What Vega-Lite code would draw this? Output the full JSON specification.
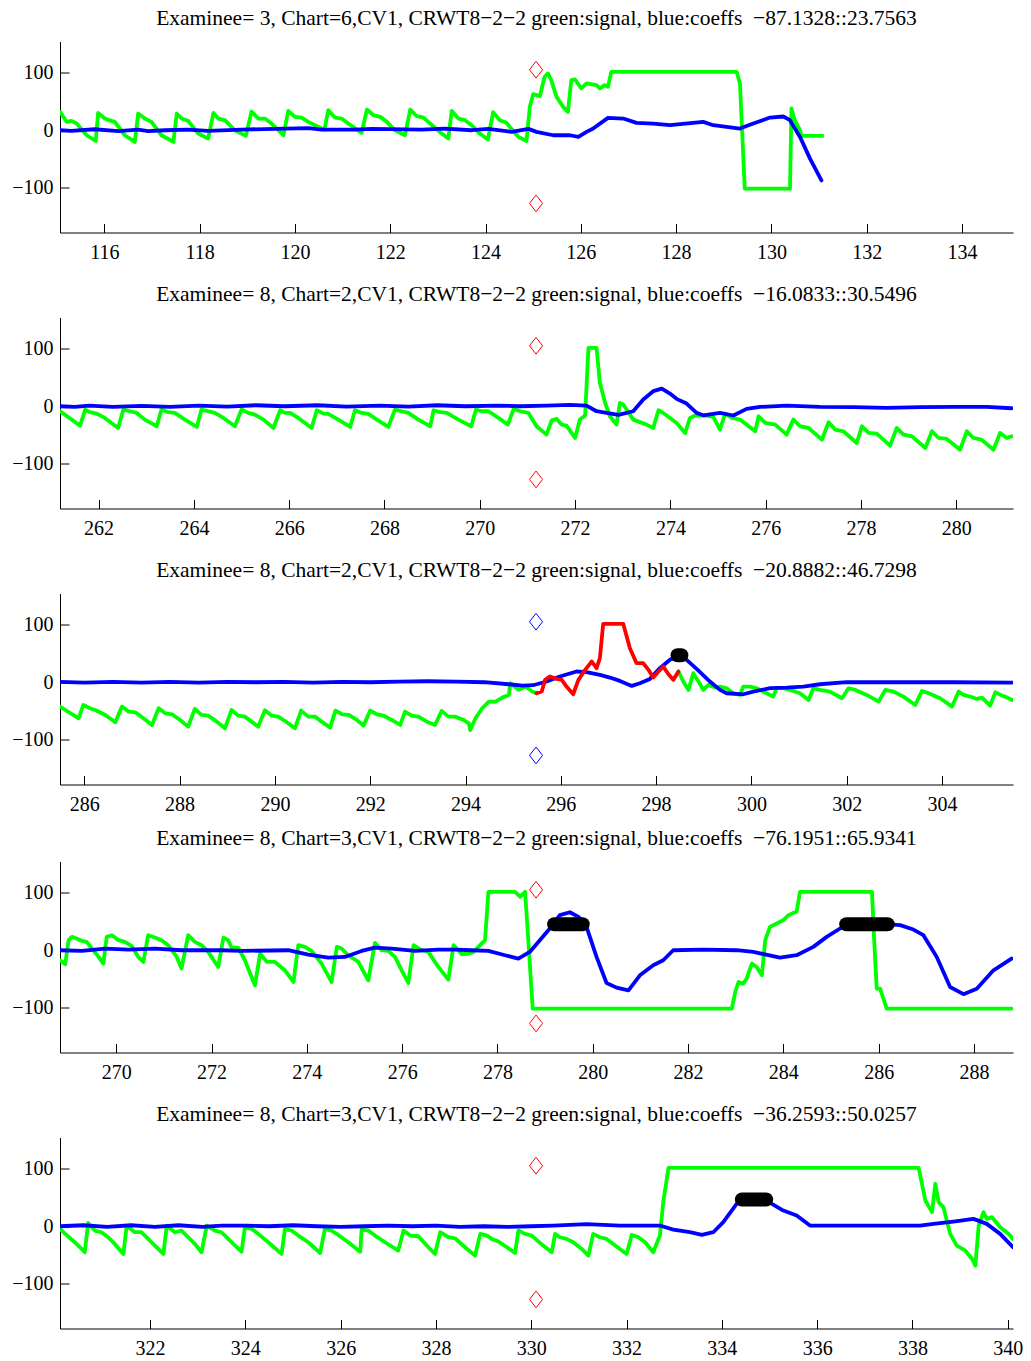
{
"$schema":"https://vega.github.io/schema/vega-lite/v6.json",
"padding":{"left":11,"top":7.5,"right":5,"bottom":5},
"spacing":13,
"datasets":{
"sig":[
{"p":1,"s":"g","x":115.07,"y":31.9},{"p":1,"s":"g","x":115.21,"y":14.5},{"p":1,"s":"g","x":115.31,"y":16.2},{"p":1,"s":"g","x":115.42,"y":11.6},{"p":1,"s":"g","x":115.63,"y":-8.7},{"p":1,"s":"g","x":115.82,"y":-18.6},{"p":1,"s":"g","x":115.87,"y":30.1},{"p":1,"s":"g","x":116.01,"y":20.3},{"p":1,"s":"g","x":116.15,"y":16.2},{"p":1,"s":"g","x":116.22,"y":14.5},{"p":1,"s":"g","x":116.43,"y":-8.7},{"p":1,"s":"g","x":116.64,"y":-20.3},{"p":1,"s":"g","x":116.71,"y":29.0},{"p":1,"s":"g","x":116.85,"y":20.3},{"p":1,"s":"g","x":116.99,"y":14.5},{"p":1,"s":"g","x":117.20,"y":-8.7},{"p":1,"s":"g","x":117.45,"y":-20.3},{"p":1,"s":"g","x":117.52,"y":29.0},{"p":1,"s":"g","x":117.62,"y":20.3},{"p":1,"s":"g","x":117.76,"y":16.2},{"p":1,"s":"g","x":117.97,"y":-5.8},{"p":1,"s":"g","x":118.18,"y":-14.5},{"p":1,"s":"g","x":118.29,"y":30.1},{"p":1,"s":"g","x":118.39,"y":20.3},{"p":1,"s":"g","x":118.53,"y":17.4},{"p":1,"s":"g","x":118.74,"y":0},{"p":1,"s":"g","x":118.97,"y":-9.9},{"p":1,"s":"g","x":119.09,"y":32.5},{"p":1,"s":"g","x":119.23,"y":20.3},{"p":1,"s":"g","x":119.37,"y":20.3},{"p":1,"s":"g","x":119.51,"y":11.6},{"p":1,"s":"g","x":119.76,"y":-8.7},{"p":1,"s":"g","x":119.86,"y":33.6},{"p":1,"s":"g","x":120.00,"y":23.2},{"p":1,"s":"g","x":120.14,"y":22.0},{"p":1,"s":"g","x":120.28,"y":14.5},{"p":1,"s":"g","x":120.56,"y":2.9},{"p":1,"s":"g","x":120.62,"y":1.2},{"p":1,"s":"g","x":120.70,"y":34.8},{"p":1,"s":"g","x":120.84,"y":22.0},{"p":1,"s":"g","x":120.98,"y":20.3},{"p":1,"s":"g","x":121.12,"y":11.6},{"p":1,"s":"g","x":121.40,"y":-4.6},{"p":1,"s":"g","x":121.51,"y":35.9},{"p":1,"s":"g","x":121.65,"y":26.1},{"p":1,"s":"g","x":121.79,"y":23.2},{"p":1,"s":"g","x":121.93,"y":14.5},{"p":1,"s":"g","x":122.10,"y":0},{"p":1,"s":"g","x":122.31,"y":-8.7},{"p":1,"s":"g","x":122.42,"y":35.9},{"p":1,"s":"g","x":122.56,"y":24.3},{"p":1,"s":"g","x":122.70,"y":22.0},{"p":1,"s":"g","x":122.84,"y":11.6},{"p":1,"s":"g","x":123.08,"y":-5.8},{"p":1,"s":"g","x":123.22,"y":-14.5},{"p":1,"s":"g","x":123.29,"y":33.6},{"p":1,"s":"g","x":123.43,"y":20.3},{"p":1,"s":"g","x":123.57,"y":17.4},{"p":1,"s":"g","x":123.71,"y":8.7},{"p":1,"s":"g","x":123.88,"y":-5.8},{"p":1,"s":"g","x":124.05,"y":-16.2},{"p":1,"s":"g","x":124.16,"y":31.3},{"p":1,"s":"g","x":124.30,"y":17.4},{"p":1,"s":"g","x":124.44,"y":12.8},{"p":1,"s":"g","x":124.51,"y":5.8},{"p":1,"s":"g","x":124.69,"y":-11.6},{"p":1,"s":"g","x":124.86,"y":-18.6},{"p":1,"s":"g","x":124.93,"y":40.6},{"p":1,"s":"g","x":125.00,"y":62.6},{"p":1,"s":"g","x":125.14,"y":59.1},{"p":1,"s":"g","x":125.24,"y":92.8},{"p":1,"s":"g","x":125.31,"y":98.6},{"p":1,"s":"g","x":125.38,"y":87.0},{"p":1,"s":"g","x":125.49,"y":58.0},{"p":1,"s":"g","x":125.63,"y":40.6},{"p":1,"s":"g","x":125.73,"y":31.9},{"p":1,"s":"g","x":125.80,"y":87.0},{"p":1,"s":"g","x":125.88,"y":88.1},{"p":1,"s":"g","x":126.01,"y":72.5},{"p":1,"s":"g","x":126.12,"y":81.2},{"p":1,"s":"g","x":126.33,"y":78.3},{"p":1,"s":"g","x":126.40,"y":72.5},{"p":1,"s":"g","x":126.50,"y":78.3},{"p":1,"s":"g","x":126.57,"y":75.4},{"p":1,"s":"g","x":126.64,"y":101.4},{"p":1,"s":"g","x":129.27,"y":101.4},{"p":1,"s":"g","x":129.34,"y":81.2},{"p":1,"s":"g","x":129.44,"y":-101.4},{"p":1,"s":"g","x":130.39,"y":-101.4},{"p":1,"s":"g","x":130.42,"y":37.7},{"p":1,"s":"g","x":130.49,"y":17.4},{"p":1,"s":"g","x":130.60,"y":0},{"p":1,"s":"g","x":130.63,"y":-9.9},{"p":1,"s":"g","x":131.07,"y":-9.9},
{"p":1,"s":"b","x":115.07,"y":0},{"p":1,"s":"b","x":115.31,"y":-1.2},{"p":1,"s":"b","x":115.80,"y":1.7},{"p":1,"s":"b","x":116.29,"y":-1.7},{"p":1,"s":"b","x":116.71,"y":1.2},{"p":1,"s":"b","x":116.92,"y":-1.7},{"p":1,"s":"b","x":117.27,"y":0},{"p":1,"s":"b","x":117.76,"y":1.2},{"p":1,"s":"b","x":118.18,"y":-1.2},{"p":1,"s":"b","x":118.88,"y":1.2},{"p":1,"s":"b","x":119.58,"y":2.3},{"p":1,"s":"b","x":120.28,"y":3.5},{"p":1,"s":"b","x":120.56,"y":1.2},{"p":1,"s":"b","x":121.26,"y":1.2},{"p":1,"s":"b","x":121.61,"y":2.3},{"p":1,"s":"b","x":122.66,"y":1.2},{"p":1,"s":"b","x":123.15,"y":2.9},{"p":1,"s":"b","x":123.71,"y":0},{"p":1,"s":"b","x":124.06,"y":2.3},{"p":1,"s":"b","x":124.55,"y":-2.9},{"p":1,"s":"b","x":124.90,"y":2.3},{"p":1,"s":"b","x":125.07,"y":-2.9},{"p":1,"s":"b","x":125.42,"y":-8.7},{"p":1,"s":"b","x":125.77,"y":-8.7},{"p":1,"s":"b","x":125.95,"y":-11.6},{"p":1,"s":"b","x":126.12,"y":-2.9},{"p":1,"s":"b","x":126.26,"y":2.9},{"p":1,"s":"b","x":126.57,"y":21.4},{"p":1,"s":"b","x":126.89,"y":20.3},{"p":1,"s":"b","x":127.17,"y":12.8},{"p":1,"s":"b","x":127.52,"y":11.6},{"p":1,"s":"b","x":127.87,"y":8.7},{"p":1,"s":"b","x":128.57,"y":14.5},{"p":1,"s":"b","x":128.78,"y":8.7},{"p":1,"s":"b","x":129.34,"y":2.9},{"p":1,"s":"b","x":129.62,"y":11.6},{"p":1,"s":"b","x":129.97,"y":22.0},{"p":1,"s":"b","x":130.25,"y":23.8},{"p":1,"s":"b","x":130.39,"y":17.4},{"p":1,"s":"b","x":130.60,"y":-11.6},{"p":1,"s":"b","x":130.81,"y":-49.3},{"p":1,"s":"b","x":131.05,"y":-87.1},
{"p":1,"s":"d","x":125.06,"y":105},{"p":1,"s":"d","x":125.06,"y":-127},
{"p":2,"s":"g","x":261.19,"y":-8.7},{"p":2,"s":"g","x":261.61,"y":-33.6},{"p":2,"s":"g","x":261.72,"y":-5.8},{"p":2,"s":"g","x":261.82,"y":-10.4},{"p":2,"s":"g","x":261.96,"y":-12.8},{"p":2,"s":"g","x":262.13,"y":-20.3},{"p":2,"s":"g","x":262.41,"y":-37.7},{"p":2,"s":"g","x":262.52,"y":-5.8},{"p":2,"s":"g","x":262.66,"y":-8.7},{"p":2,"s":"g","x":262.80,"y":-11.6},{"p":2,"s":"g","x":262.97,"y":-23.2},{"p":2,"s":"g","x":263.22,"y":-34.8},{"p":2,"s":"g","x":263.32,"y":-5.8},{"p":2,"s":"g","x":263.46,"y":-10.4},{"p":2,"s":"g","x":263.60,"y":-11.6},{"p":2,"s":"g","x":263.81,"y":-23.2},{"p":2,"s":"g","x":264.06,"y":-35.9},{"p":2,"s":"g","x":264.16,"y":-5.8},{"p":2,"s":"g","x":264.30,"y":-8.7},{"p":2,"s":"g","x":264.44,"y":-11.6},{"p":2,"s":"g","x":264.62,"y":-20.3},{"p":2,"s":"g","x":264.86,"y":-34.8},{"p":2,"s":"g","x":265.00,"y":-5.8},{"p":2,"s":"g","x":265.14,"y":-11.6},{"p":2,"s":"g","x":265.28,"y":-14.5},{"p":2,"s":"g","x":265.46,"y":-23.2},{"p":2,"s":"g","x":265.67,"y":-37.7},{"p":2,"s":"g","x":265.81,"y":-7.0},{"p":2,"s":"g","x":265.91,"y":-11.6},{"p":2,"s":"g","x":266.02,"y":-11.6},{"p":2,"s":"g","x":266.19,"y":-20.3},{"p":2,"s":"g","x":266.47,"y":-37.7},{"p":2,"s":"g","x":266.58,"y":-7.0},{"p":2,"s":"g","x":266.72,"y":-12.8},{"p":2,"s":"g","x":266.82,"y":-13.3},{"p":2,"s":"g","x":267.03,"y":-23.2},{"p":2,"s":"g","x":267.28,"y":-35.9},{"p":2,"s":"g","x":267.38,"y":-7.0},{"p":2,"s":"g","x":267.52,"y":-11.6},{"p":2,"s":"g","x":267.66,"y":-13.3},{"p":2,"s":"g","x":267.84,"y":-23.2},{"p":2,"s":"g","x":268.08,"y":-35.9},{"p":2,"s":"g","x":268.22,"y":-5.8},{"p":2,"s":"g","x":268.36,"y":-8.7},{"p":2,"s":"g","x":268.50,"y":-11.6},{"p":2,"s":"g","x":268.71,"y":-23.2},{"p":2,"s":"g","x":268.96,"y":-34.8},{"p":2,"s":"g","x":269.03,"y":-7.0},{"p":2,"s":"g","x":269.17,"y":-10.4},{"p":2,"s":"g","x":269.31,"y":-11.6},{"p":2,"s":"g","x":269.55,"y":-23.2},{"p":2,"s":"g","x":269.82,"y":-34.8},{"p":2,"s":"g","x":269.92,"y":-5.8},{"p":2,"s":"g","x":270.04,"y":-8.7},{"p":2,"s":"g","x":270.18,"y":-8.7},{"p":2,"s":"g","x":270.39,"y":-20.3},{"p":2,"s":"g","x":270.59,"y":-31.9},{"p":2,"s":"g","x":270.71,"y":-4.6},{"p":2,"s":"g","x":270.85,"y":-8.7},{"p":2,"s":"g","x":271.02,"y":-11.6},{"p":2,"s":"g","x":271.19,"y":-34.8},{"p":2,"s":"g","x":271.40,"y":-49.3},{"p":2,"s":"g","x":271.51,"y":-24.3},{"p":2,"s":"g","x":271.61,"y":-22.0},{"p":2,"s":"g","x":271.72,"y":-31.9},{"p":2,"s":"g","x":271.82,"y":-33.6},{"p":2,"s":"g","x":272.00,"y":-55.1},{"p":2,"s":"g","x":272.10,"y":-23.2},{"p":2,"s":"g","x":272.21,"y":-16.2},{"p":2,"s":"g","x":272.28,"y":101.4},{"p":2,"s":"g","x":272.45,"y":101.4},{"p":2,"s":"g","x":272.52,"y":40.6},{"p":2,"s":"g","x":272.63,"y":5.8},{"p":2,"s":"g","x":272.73,"y":-17.4},{"p":2,"s":"g","x":272.87,"y":-31.9},{"p":2,"s":"g","x":272.94,"y":5.8},{"p":2,"s":"g","x":273.01,"y":2.9},{"p":2,"s":"g","x":273.22,"y":-23.2},{"p":2,"s":"g","x":273.50,"y":-31.9},{"p":2,"s":"g","x":273.64,"y":-37.7},{"p":2,"s":"g","x":273.75,"y":-7.0},{"p":2,"s":"g","x":273.85,"y":-11.6},{"p":2,"s":"g","x":273.99,"y":-20.3},{"p":2,"s":"g","x":274.13,"y":-29.0},{"p":2,"s":"g","x":274.31,"y":-46.4},{"p":2,"s":"g","x":274.41,"y":-20.3},{"p":2,"s":"g","x":274.52,"y":-16.2},{"p":2,"s":"g","x":274.76,"y":-16.2},{"p":2,"s":"g","x":274.90,"y":-18.6},{"p":2,"s":"g","x":275.04,"y":-40.6},{"p":2,"s":"g","x":275.15,"y":-12.8},{"p":2,"s":"g","x":275.29,"y":-20.3},{"p":2,"s":"g","x":275.46,"y":-23.2},{"p":2,"s":"g","x":275.60,"y":-31.9},{"p":2,"s":"g","x":275.78,"y":-43.5},{"p":2,"s":"g","x":275.85,"y":-17.4},{"p":2,"s":"g","x":275.99,"y":-29.0},{"p":2,"s":"g","x":276.20,"y":-31.9},{"p":2,"s":"g","x":276.44,"y":-49.3},{"p":2,"s":"g","x":276.58,"y":-23.2},{"p":2,"s":"g","x":276.72,"y":-34.8},{"p":2,"s":"g","x":276.90,"y":-37.7},{"p":2,"s":"g","x":277.18,"y":-58.0},{"p":2,"s":"g","x":277.32,"y":-27.8},{"p":2,"s":"g","x":277.46,"y":-40.6},{"p":2,"s":"g","x":277.63,"y":-43.5},{"p":2,"s":"g","x":277.91,"y":-63.8},{"p":2,"s":"g","x":278.02,"y":-34.8},{"p":2,"s":"g","x":278.16,"y":-46.4},{"p":2,"s":"g","x":278.33,"y":-47.5},{"p":2,"s":"g","x":278.61,"y":-68.4},{"p":2,"s":"g","x":278.75,"y":-37.7},{"p":2,"s":"g","x":278.89,"y":-49.3},{"p":2,"s":"g","x":279.07,"y":-52.2},{"p":2,"s":"g","x":279.35,"y":-72.5},{"p":2,"s":"g","x":279.49,"y":-43.5},{"p":2,"s":"g","x":279.63,"y":-55.1},{"p":2,"s":"g","x":279.80,"y":-56.8},{"p":2,"s":"g","x":280.08,"y":-75.4},{"p":2,"s":"g","x":280.22,"y":-43.5},{"p":2,"s":"g","x":280.36,"y":-55.1},{"p":2,"s":"g","x":280.53,"y":-58.0},{"p":2,"s":"g","x":280.78,"y":-75.4},{"p":2,"s":"g","x":280.92,"y":-46.4},{"p":2,"s":"g","x":281.06,"y":-55.1},{"p":2,"s":"g","x":281.16,"y":-52.2},
{"p":2,"s":"b","x":261.19,"y":0},{"p":2,"s":"b","x":261.5,"y":-1.2},{"p":2,"s":"b","x":261.8,"y":1.2},{"p":2,"s":"b","x":262.3,"y":-1.2},{"p":2,"s":"b","x":262.9,"y":0.6},{"p":2,"s":"b","x":263.5,"y":-1.2},{"p":2,"s":"b","x":264.1,"y":1.2},{"p":2,"s":"b","x":264.7,"y":-0.6},{"p":2,"s":"b","x":265.3,"y":1.7},{"p":2,"s":"b","x":265.9,"y":0},{"p":2,"s":"b","x":266.6,"y":1.7},{"p":2,"s":"b","x":267.2,"y":-0.6},{"p":2,"s":"b","x":267.9,"y":1.2},{"p":2,"s":"b","x":268.5,"y":-0.6},{"p":2,"s":"b","x":269.1,"y":1.7},{"p":2,"s":"b","x":269.7,"y":0},{"p":2,"s":"b","x":270.4,"y":1.2},{"p":2,"s":"b","x":270.84,"y":0},{"p":2,"s":"b","x":271.40,"y":1.2},{"p":2,"s":"b","x":271.89,"y":2.3},{"p":2,"s":"b","x":272.24,"y":1.2},{"p":2,"s":"b","x":272.45,"y":-8.7},{"p":2,"s":"b","x":272.66,"y":-11.6},{"p":2,"s":"b","x":272.91,"y":-15.0},{"p":2,"s":"b","x":273.22,"y":-8.7},{"p":2,"s":"b","x":273.43,"y":11.6},{"p":2,"s":"b","x":273.64,"y":26.1},{"p":2,"s":"b","x":273.82,"y":30.5},{"p":2,"s":"b","x":273.99,"y":22.0},{"p":2,"s":"b","x":274.13,"y":12.8},{"p":2,"s":"b","x":274.34,"y":4.6},{"p":2,"s":"b","x":274.55,"y":-11.6},{"p":2,"s":"b","x":274.69,"y":-15.7},{"p":2,"s":"b","x":275.04,"y":-11.6},{"p":2,"s":"b","x":275.32,"y":-16.1},{"p":2,"s":"b","x":275.60,"y":-4.6},{"p":2,"s":"b","x":275.88,"y":-1.2},{"p":2,"s":"b","x":276.44,"y":1.2},{"p":2,"s":"b","x":277.14,"y":-1.2},{"p":2,"s":"b","x":277.84,"y":-1.7},{"p":2,"s":"b","x":278.54,"y":-2.9},{"p":2,"s":"b","x":279.24,"y":-1.7},{"p":2,"s":"b","x":279.94,"y":-1.2},{"p":2,"s":"b","x":280.64,"y":-1.2},{"p":2,"s":"b","x":281.16,"y":-3.5},
{"p":2,"s":"d","x":271.18,"y":105},{"p":2,"s":"d","x":271.18,"y":-127},
{"p":3,"s":"g","k":1,"x":285.49,"y":-42.3},{"p":3,"s":"g","k":1,"x":285.88,"y":-62.6},{"p":3,"s":"g","k":1,"x":285.98,"y":-39.4},{"p":3,"s":"g","k":1,"x":286.12,"y":-45.2},{"p":3,"s":"g","k":1,"x":286.23,"y":-48.1},{"p":3,"s":"g","k":1,"x":286.44,"y":-56.8},{"p":3,"s":"g","k":1,"x":286.65,"y":-69.5},{"p":3,"s":"g","k":1,"x":286.79,"y":-42.3},{"p":3,"s":"g","k":1,"x":286.93,"y":-51.0},{"p":3,"s":"g","k":1,"x":287.07,"y":-52.2},{"p":3,"s":"g","k":1,"x":287.24,"y":-62.6},{"p":3,"s":"g","k":1,"x":287.42,"y":-74.2},{"p":3,"s":"g","k":1,"x":287.56,"y":-45.2},{"p":3,"s":"g","k":1,"x":287.70,"y":-53.9},{"p":3,"s":"g","k":1,"x":287.84,"y":-55.6},{"p":3,"s":"g","k":1,"x":288.01,"y":-65.5},{"p":3,"s":"g","k":1,"x":288.18,"y":-77.1},{"p":3,"s":"g","k":1,"x":288.32,"y":-46.3},{"p":3,"s":"g","k":1,"x":288.46,"y":-56.8},{"p":3,"s":"g","k":1,"x":288.60,"y":-57.9},{"p":3,"s":"g","k":1,"x":288.78,"y":-68.4},{"p":3,"s":"g","k":1,"x":288.95,"y":-80.0},{"p":3,"s":"g","k":1,"x":289.09,"y":-48.1},{"p":3,"s":"g","k":1,"x":289.23,"y":-57.9},{"p":3,"s":"g","k":1,"x":289.37,"y":-59.7},{"p":3,"s":"g","k":1,"x":289.51,"y":-68.4},{"p":3,"s":"g","k":1,"x":289.65,"y":-77.1},{"p":3,"s":"g","k":1,"x":289.79,"y":-48.7},{"p":3,"s":"g","k":1,"x":289.93,"y":-57.9},{"p":3,"s":"g","k":1,"x":290.07,"y":-59.7},{"p":3,"s":"g","k":1,"x":290.25,"y":-69.5},{"p":3,"s":"g","k":1,"x":290.42,"y":-80.0},{"p":3,"s":"g","k":1,"x":290.55,"y":-49.2},{"p":3,"s":"g","k":1,"x":290.70,"y":-59.7},{"p":3,"s":"g","k":1,"x":290.84,"y":-59.7},{"p":3,"s":"g","k":1,"x":290.98,"y":-68.4},{"p":3,"s":"g","k":1,"x":291.16,"y":-78.8},{"p":3,"s":"g","k":1,"x":291.27,"y":-49.2},{"p":3,"s":"g","k":1,"x":291.41,"y":-55.6},{"p":3,"s":"g","k":1,"x":291.55,"y":-56.8},{"p":3,"s":"g","k":1,"x":291.72,"y":-65.5},{"p":3,"s":"g","k":1,"x":291.86,"y":-75.3},{"p":3,"s":"g","k":1,"x":292.00,"y":-49.2},{"p":3,"s":"g","k":1,"x":292.14,"y":-55.6},{"p":3,"s":"g","k":1,"x":292.28,"y":-57.9},{"p":3,"s":"g","k":1,"x":292.45,"y":-65.5},{"p":3,"s":"g","k":1,"x":292.63,"y":-74.2},{"p":3,"s":"g","k":1,"x":292.73,"y":-51.0},{"p":3,"s":"g","k":1,"x":292.87,"y":-57.9},{"p":3,"s":"g","k":1,"x":293.01,"y":-59.7},{"p":3,"s":"g","k":1,"x":293.19,"y":-68.4},{"p":3,"s":"g","k":1,"x":293.36,"y":-74.2},{"p":3,"s":"g","k":1,"x":293.50,"y":-49.8},{"p":3,"s":"g","k":1,"x":293.64,"y":-59.7},{"p":3,"s":"g","k":1,"x":293.78,"y":-59.7},{"p":3,"s":"g","k":1,"x":293.96,"y":-65.5},{"p":3,"s":"g","k":1,"x":294.07,"y":-71.3},{"p":3,"s":"g","k":1,"x":294.10,"y":-82.9},{"p":3,"s":"g","k":1,"x":294.21,"y":-62.6},{"p":3,"s":"g","k":1,"x":294.35,"y":-45.2},{"p":3,"s":"g","k":1,"x":294.49,"y":-33.6},{"p":3,"s":"g","k":1,"x":294.63,"y":-33.6},{"p":3,"s":"g","k":1,"x":294.77,"y":-26.7},{"p":3,"s":"g","k":1,"x":294.91,"y":-22.1},{"p":3,"s":"g","k":1,"x":294.94,"y":-1.7},{"p":3,"s":"g","k":1,"x":295.12,"y":-13.3},{"p":3,"s":"g","k":1,"x":295.26,"y":-7.5},{"p":3,"s":"g","k":1,"x":295.40,"y":-16.2},{"p":3,"s":"g","k":1,"x":295.49,"y":-19.1},
{"p":3,"s":"r","x":295.49,"y":-19.1},{"p":3,"s":"r","x":295.60,"y":-16.2},{"p":3,"s":"r","x":295.67,"y":4.1},{"p":3,"s":"r","x":295.77,"y":9.9},{"p":3,"s":"r","x":295.91,"y":5.8},{"p":3,"s":"r","x":296.02,"y":4.1},{"p":3,"s":"r","x":296.12,"y":-7.5},{"p":3,"s":"r","x":296.26,"y":-20.9},{"p":3,"s":"r","x":296.37,"y":4.1},{"p":3,"s":"r","x":296.51,"y":21.5},{"p":3,"s":"r","x":296.65,"y":36.0},{"p":3,"s":"r","x":296.75,"y":24.4},{"p":3,"s":"r","x":296.82,"y":41.8},{"p":3,"s":"r","x":296.89,"y":101.4},{"p":3,"s":"r","x":297.31,"y":101.4},{"p":3,"s":"r","x":297.45,"y":59.1},{"p":3,"s":"r","x":297.59,"y":33.0},{"p":3,"s":"r","x":297.73,"y":33.0},{"p":3,"s":"r","x":297.84,"y":21.5},{"p":3,"s":"r","x":297.94,"y":8.1},{"p":3,"s":"r","x":298.05,"y":18.6},{"p":3,"s":"r","x":298.15,"y":27.2},{"p":3,"s":"r","x":298.26,"y":13.9},{"p":3,"s":"r","x":298.36,"y":4.1},{"p":3,"s":"r","x":298.47,"y":18.6},
{"p":3,"s":"g","k":2,"x":298.47,"y":18.6},{"p":3,"s":"g","k":2,"x":298.57,"y":1.2},{"p":3,"s":"g","k":2,"x":298.68,"y":-13.3},{"p":3,"s":"g","k":2,"x":298.78,"y":15.7},{"p":3,"s":"g","k":2,"x":298.89,"y":1.2},{"p":3,"s":"g","k":2,"x":298.99,"y":-13.3},{"p":3,"s":"g","k":2,"x":299.10,"y":-4.6},{"p":3,"s":"g","k":2,"x":299.24,"y":-9.3},{"p":3,"s":"g","k":2,"x":299.34,"y":-7.5},{"p":3,"s":"g","k":2,"x":299.48,"y":-10.4},{"p":3,"s":"g","k":2,"x":299.62,"y":-19.1},{"p":3,"s":"g","k":2,"x":299.76,"y":-22.0},{"p":3,"s":"g","k":2,"x":299.83,"y":-7.5},{"p":3,"s":"g","k":2,"x":299.97,"y":-7.5},{"p":3,"s":"g","k":2,"x":300.11,"y":-10.4},{"p":3,"s":"g","k":2,"x":300.32,"y":-19.1},{"p":3,"s":"g","k":2,"x":300.46,"y":-24.9},{"p":3,"s":"g","k":2,"x":300.53,"y":-10.4},{"p":3,"s":"g","k":2,"x":300.67,"y":-10.4},{"p":3,"s":"g","k":2,"x":300.81,"y":-13.3},{"p":3,"s":"g","k":2,"x":301.02,"y":-19.1},{"p":3,"s":"g","k":2,"x":301.20,"y":-30.7},{"p":3,"s":"g","k":2,"x":301.30,"y":-10.4},{"p":3,"s":"g","k":2,"x":301.44,"y":-13.3},{"p":3,"s":"g","k":2,"x":301.65,"y":-16.2},{"p":3,"s":"g","k":2,"x":301.90,"y":-27.8},{"p":3,"s":"g","k":2,"x":302.04,"y":-10.4},{"p":3,"s":"g","k":2,"x":302.18,"y":-13.3},{"p":3,"s":"g","k":2,"x":302.42,"y":-22.0},{"p":3,"s":"g","k":2,"x":302.67,"y":-33.6},{"p":3,"s":"g","k":2,"x":302.81,"y":-13.3},{"p":3,"s":"g","k":2,"x":302.98,"y":-16.2},{"p":3,"s":"g","k":2,"x":303.19,"y":-24.9},{"p":3,"s":"g","k":2,"x":303.44,"y":-39.4},{"p":3,"s":"g","k":2,"x":303.58,"y":-15.1},{"p":3,"s":"g","k":2,"x":303.72,"y":-19.1},{"p":3,"s":"g","k":2,"x":303.96,"y":-27.8},{"p":3,"s":"g","k":2,"x":304.21,"y":-42.3},{"p":3,"s":"g","k":2,"x":304.35,"y":-16.2},{"p":3,"s":"g","k":2,"x":304.45,"y":-22.0},{"p":3,"s":"g","k":2,"x":304.59,"y":-24.9},{"p":3,"s":"g","k":2,"x":304.73,"y":-29.0},{"p":3,"s":"g","k":2,"x":304.84,"y":-26.7},{"p":3,"s":"g","k":2,"x":305.01,"y":-40.6},{"p":3,"s":"g","k":2,"x":305.12,"y":-17.4},{"p":3,"s":"g","k":2,"x":305.26,"y":-23.2},{"p":3,"s":"g","k":2,"x":305.37,"y":-26.7},{"p":3,"s":"g","k":2,"x":305.47,"y":-30.7},
{"p":3,"s":"b","x":285.49,"y":0.6},{"p":3,"s":"b","x":286.0,"y":-0.6},{"p":3,"s":"b","x":286.6,"y":0.6},{"p":3,"s":"b","x":287.2,"y":-0.6},{"p":3,"s":"b","x":287.8,"y":0.6},{"p":3,"s":"b","x":288.4,"y":-0.6},{"p":3,"s":"b","x":289.0,"y":0.6},{"p":3,"s":"b","x":289.6,"y":0},{"p":3,"s":"b","x":290.2,"y":0.6},{"p":3,"s":"b","x":290.8,"y":-0.6},{"p":3,"s":"b","x":291.4,"y":0.6},{"p":3,"s":"b","x":292.0,"y":0},{"p":3,"s":"b","x":292.6,"y":1.2},{"p":3,"s":"b","x":293.2,"y":1.7},{"p":3,"s":"b","x":293.8,"y":1.2},{"p":3,"s":"b","x":294.4,"y":0},{"p":3,"s":"b","x":294.9,"y":-3.5},{"p":3,"s":"b","x":295.2,"y":-5.8},{"p":3,"s":"b","x":295.42,"y":-5.2},{"p":3,"s":"b","x":295.70,"y":1.2},{"p":3,"s":"b","x":295.98,"y":9.9},{"p":3,"s":"b","x":296.33,"y":18.6},{"p":3,"s":"b","x":296.54,"y":17.4},{"p":3,"s":"b","x":296.82,"y":12.8},{"p":3,"s":"b","x":297.03,"y":8.1},{"p":3,"s":"b","x":297.24,"y":2.3},{"p":3,"s":"b","x":297.49,"y":-6.4},{"p":3,"s":"b","x":297.66,"y":-1.7},{"p":3,"s":"b","x":297.87,"y":5.8},{"p":3,"s":"b","x":298.08,"y":24.4},{"p":3,"s":"b","x":298.29,"y":38.9},{"p":3,"s":"b","x":298.49,"y":46.7},{"p":3,"s":"b","x":298.64,"y":38.9},{"p":3,"s":"b","x":298.85,"y":23.2},{"p":3,"s":"b","x":299.13,"y":1.2},{"p":3,"s":"b","x":299.34,"y":-13.3},{"p":3,"s":"b","x":299.48,"y":-19.1},{"p":3,"s":"b","x":299.83,"y":-20.9},{"p":3,"s":"b","x":300.04,"y":-16.2},{"p":3,"s":"b","x":300.39,"y":-10.4},{"p":3,"s":"b","x":300.74,"y":-9.3},{"p":3,"s":"b","x":301.09,"y":-7.5},{"p":3,"s":"b","x":301.44,"y":-3.5},{"p":3,"s":"b","x":302.00,"y":0},{"p":3,"s":"b","x":302.84,"y":0},{"p":3,"s":"b","x":303.54,"y":0},{"p":3,"s":"b","x":304.24,"y":0},{"p":3,"s":"b","x":305.47,"y":-0.6},
{"p":3,"s":"k","k":1,"x":298.45,"y":46.7},{"p":3,"s":"k","k":1,"x":298.53,"y":46.7},
{"p":3,"s":"d","x":295.48,"y":105},{"p":3,"s":"d","x":295.48,"y":-127},
{"p":4,"s":"g","x":268.82,"y":-17.4},{"p":4,"s":"g","x":268.93,"y":-24.3},{"p":4,"s":"g","x":269.00,"y":17.4},{"p":4,"s":"g","x":269.07,"y":23.2},{"p":4,"s":"g","x":269.17,"y":20.3},{"p":4,"s":"g","x":269.28,"y":16.2},{"p":4,"s":"g","x":269.38,"y":14.5},{"p":4,"s":"g","x":269.49,"y":2.9},{"p":4,"s":"g","x":269.63,"y":-11.6},{"p":4,"s":"g","x":269.73,"y":-23.2},{"p":4,"s":"g","x":269.80,"y":23.2},{"p":4,"s":"g","x":269.91,"y":26.1},{"p":4,"s":"g","x":270.05,"y":17.4},{"p":4,"s":"g","x":270.18,"y":14.5},{"p":4,"s":"g","x":270.33,"y":7.0},{"p":4,"s":"g","x":270.46,"y":-11.6},{"p":4,"s":"g","x":270.57,"y":-20.3},{"p":4,"s":"g","x":270.67,"y":26.1},{"p":4,"s":"g","x":270.81,"y":22.0},{"p":4,"s":"g","x":270.95,"y":17.4},{"p":4,"s":"g","x":271.09,"y":8.7},{"p":4,"s":"g","x":271.27,"y":-11.6},{"p":4,"s":"g","x":271.37,"y":-31.9},{"p":4,"s":"g","x":271.51,"y":26.1},{"p":4,"s":"g","x":271.65,"y":14.5},{"p":4,"s":"g","x":271.79,"y":8.7},{"p":4,"s":"g","x":271.93,"y":-2.9},{"p":4,"s":"g","x":272.14,"y":-29.0},{"p":4,"s":"g","x":272.25,"y":22.0},{"p":4,"s":"g","x":272.35,"y":17.4},{"p":4,"s":"g","x":272.42,"y":4.6},{"p":4,"s":"g","x":272.56,"y":4.6},{"p":4,"s":"g","x":272.70,"y":-17.4},{"p":4,"s":"g","x":272.84,"y":-46.4},{"p":4,"s":"g","x":272.91,"y":-60.9},{"p":4,"s":"g","x":273.02,"y":-5.8},{"p":4,"s":"g","x":273.16,"y":-20.3},{"p":4,"s":"g","x":273.33,"y":-20.3},{"p":4,"s":"g","x":273.54,"y":-34.8},{"p":4,"s":"g","x":273.72,"y":-55.1},{"p":4,"s":"g","x":273.82,"y":8.7},{"p":4,"s":"g","x":273.96,"y":5.8},{"p":4,"s":"g","x":274.10,"y":-1.2},{"p":4,"s":"g","x":274.31,"y":-23.2},{"p":4,"s":"g","x":274.52,"y":-55.1},{"p":4,"s":"g","x":274.63,"y":5.8},{"p":4,"s":"g","x":274.73,"y":2.9},{"p":4,"s":"g","x":274.87,"y":-8.7},{"p":4,"s":"g","x":275.08,"y":-20.3},{"p":4,"s":"g","x":275.29,"y":-52.2},{"p":4,"s":"g","x":275.43,"y":12.8},{"p":4,"s":"g","x":275.57,"y":0},{"p":4,"s":"g","x":275.71,"y":-1.2},{"p":4,"s":"g","x":275.85,"y":-11.6},{"p":4,"s":"g","x":275.99,"y":-34.8},{"p":4,"s":"g","x":276.13,"y":-56.8},{"p":4,"s":"g","x":276.24,"y":8.7},{"p":4,"s":"g","x":276.38,"y":1.2},{"p":4,"s":"g","x":276.55,"y":-2.9},{"p":4,"s":"g","x":276.76,"y":-29.0},{"p":4,"s":"g","x":276.97,"y":-51.0},{"p":4,"s":"g","x":277.08,"y":8.7},{"p":4,"s":"g","x":277.18,"y":0},{"p":4,"s":"g","x":277.25,"y":-7.0},{"p":4,"s":"g","x":277.39,"y":-5.8},{"p":4,"s":"g","x":277.50,"y":-2.9},{"p":4,"s":"g","x":277.60,"y":5.8},{"p":4,"s":"g","x":277.74,"y":17.4},{"p":4,"s":"g","x":277.81,"y":101.4},{"p":4,"s":"g","x":278.37,"y":101.4},{"p":4,"s":"g","x":278.48,"y":92.8},{"p":4,"s":"g","x":278.58,"y":101.4},{"p":4,"s":"g","x":278.63,"y":40.6},{"p":4,"s":"g","x":278.74,"y":-101.4},{"p":4,"s":"g","x":282.92,"y":-101.4},{"p":4,"s":"g","x":282.99,"y":-72.5},{"p":4,"s":"g","x":283.06,"y":-55.1},{"p":4,"s":"g","x":283.16,"y":-58.0},{"p":4,"s":"g","x":283.23,"y":-49.3},{"p":4,"s":"g","x":283.34,"y":-23.2},{"p":4,"s":"g","x":283.44,"y":-29.0},{"p":4,"s":"g","x":283.55,"y":-43.5},{"p":4,"s":"g","x":283.62,"y":17.4},{"p":4,"s":"g","x":283.72,"y":40.6},{"p":4,"s":"g","x":283.86,"y":46.4},{"p":4,"s":"g","x":284.00,"y":52.2},{"p":4,"s":"g","x":284.11,"y":60.9},{"p":4,"s":"g","x":284.21,"y":64.9},{"p":4,"s":"g","x":284.28,"y":66.7},{"p":4,"s":"g","x":284.35,"y":101.4},{"p":4,"s":"g","x":285.86,"y":101.4},{"p":4,"s":"g","x":285.91,"y":11.6},{"p":4,"s":"g","x":285.96,"y":-66.7},{"p":4,"s":"g","x":286.03,"y":-66.7},{"p":4,"s":"g","x":286.17,"y":-101.4},{"p":4,"s":"g","x":288.79,"y":-101.4},
{"p":4,"s":"b","x":268.82,"y":0},{"p":4,"s":"b","x":269.28,"y":-1.2},{"p":4,"s":"b","x":269.77,"y":2.9},{"p":4,"s":"b","x":270.26,"y":1.2},{"p":4,"s":"b","x":270.81,"y":2.9},{"p":4,"s":"b","x":271.37,"y":0},{"p":4,"s":"b","x":272.21,"y":0},{"p":4,"s":"b","x":272.63,"y":-1.2},{"p":4,"s":"b","x":273.61,"y":0},{"p":4,"s":"b","x":274.03,"y":-7.5},{"p":4,"s":"b","x":274.45,"y":-12.8},{"p":4,"s":"b","x":274.80,"y":-11.6},{"p":4,"s":"b","x":275.15,"y":-1.2},{"p":4,"s":"b","x":275.43,"y":4.6},{"p":4,"s":"b","x":275.78,"y":2.9},{"p":4,"s":"b","x":276.27,"y":-1.2},{"p":4,"s":"b","x":276.76,"y":1.2},{"p":4,"s":"b","x":277.11,"y":1.2},{"p":4,"s":"b","x":277.46,"y":0},{"p":4,"s":"b","x":277.81,"y":-1.2},{"p":4,"s":"b","x":278.16,"y":-8.7},{"p":4,"s":"b","x":278.44,"y":-14.5},{"p":4,"s":"b","x":278.68,"y":-2.9},{"p":4,"s":"b","x":278.89,"y":17.4},{"p":4,"s":"b","x":279.10,"y":37.7},{"p":4,"s":"b","x":279.31,"y":60.9},{"p":4,"s":"b","x":279.52,"y":65.9},{"p":4,"s":"b","x":279.70,"y":58.0},{"p":4,"s":"b","x":279.87,"y":40.6},{"p":4,"s":"b","x":280.08,"y":-11.6},{"p":4,"s":"b","x":280.29,"y":-56.8},{"p":4,"s":"b","x":280.50,"y":-64.9},{"p":4,"s":"b","x":280.75,"y":-69.6},{"p":4,"s":"b","x":280.99,"y":-43.5},{"p":4,"s":"b","x":281.27,"y":-26.1},{"p":4,"s":"b","x":281.48,"y":-17.4},{"p":4,"s":"b","x":281.69,"y":0},{"p":4,"s":"b","x":282.32,"y":1.2},{"p":4,"s":"b","x":283.02,"y":0},{"p":4,"s":"b","x":283.37,"y":-2.9},{"p":4,"s":"b","x":283.93,"y":-12.8},{"p":4,"s":"b","x":284.28,"y":-8.7},{"p":4,"s":"b","x":284.63,"y":5.8},{"p":4,"s":"b","x":284.91,"y":23.2},{"p":4,"s":"b","x":285.19,"y":37.7},{"p":4,"s":"b","x":285.47,"y":46.4},{"p":4,"s":"b","x":286.17,"y":45.2},{"p":4,"s":"b","x":286.45,"y":43.5},{"p":4,"s":"b","x":286.73,"y":35.9},{"p":4,"s":"b","x":286.94,"y":26.1},{"p":4,"s":"b","x":287.22,"y":-11.6},{"p":4,"s":"b","x":287.50,"y":-63.8},{"p":4,"s":"b","x":287.78,"y":-76.2},{"p":4,"s":"b","x":288.06,"y":-66.7},{"p":4,"s":"b","x":288.41,"y":-34.8},{"p":4,"s":"b","x":288.79,"y":-14.5},
{"p":4,"s":"k","k":1,"x":279.19,"y":45.2},{"p":4,"s":"k","k":1,"x":279.79,"y":45.2},{"p":4,"s":"k","k":2,"x":285.32,"y":45.2},{"p":4,"s":"k","k":2,"x":286.19,"y":45.2},
{"p":4,"s":"d","x":278.81,"y":105},{"p":4,"s":"d","x":278.81,"y":-127},
{"p":5,"s":"g","x":320.11,"y":-4.6},{"p":5,"s":"g","x":320.22,"y":-13.3},{"p":5,"s":"g","x":320.42,"y":-27.8},{"p":5,"s":"g","x":320.53,"y":-36.5},{"p":5,"s":"g","x":320.63,"y":-45.2},{"p":5,"s":"g","x":320.70,"y":5.8},{"p":5,"s":"g","x":320.84,"y":-7.5},{"p":5,"s":"g","x":320.98,"y":-10.4},{"p":5,"s":"g","x":321.12,"y":-19.1},{"p":5,"s":"g","x":321.26,"y":-30.7},{"p":5,"s":"g","x":321.44,"y":-48.1},{"p":5,"s":"g","x":321.51,"y":1.2},{"p":5,"s":"g","x":321.68,"y":-10.4},{"p":5,"s":"g","x":321.82,"y":-10.4},{"p":5,"s":"g","x":321.96,"y":-22.0},{"p":5,"s":"g","x":322.10,"y":-33.6},{"p":5,"s":"g","x":322.28,"y":-48.1},{"p":5,"s":"g","x":322.35,"y":1.2},{"p":5,"s":"g","x":322.52,"y":-10.4},{"p":5,"s":"g","x":322.66,"y":-7.5},{"p":5,"s":"g","x":322.80,"y":-19.1},{"p":5,"s":"g","x":322.94,"y":-30.7},{"p":5,"s":"g","x":323.08,"y":-45.2},{"p":5,"s":"g","x":323.19,"y":1.2},{"p":5,"s":"g","x":323.36,"y":-7.5},{"p":5,"s":"g","x":323.50,"y":-10.4},{"p":5,"s":"g","x":323.64,"y":-22.0},{"p":5,"s":"g","x":323.82,"y":-36.5},{"p":5,"s":"g","x":323.92,"y":-44.1},{"p":5,"s":"g","x":323.99,"y":-1.7},{"p":5,"s":"g","x":324.13,"y":-4.6},{"p":5,"s":"g","x":324.27,"y":-13.3},{"p":5,"s":"g","x":324.48,"y":-27.8},{"p":5,"s":"g","x":324.76,"y":-48.1},{"p":5,"s":"g","x":324.83,"y":-4.6},{"p":5,"s":"g","x":324.97,"y":-7.5},{"p":5,"s":"g","x":325.11,"y":-16.2},{"p":5,"s":"g","x":325.32,"y":-27.8},{"p":5,"s":"g","x":325.57,"y":-46.4},{"p":5,"s":"g","x":325.67,"y":-4.6},{"p":5,"s":"g","x":325.81,"y":-7.5},{"p":5,"s":"g","x":325.95,"y":-15.1},{"p":5,"s":"g","x":326.16,"y":-27.8},{"p":5,"s":"g","x":326.41,"y":-44.1},{"p":5,"s":"g","x":326.44,"y":-5.8},{"p":5,"s":"g","x":326.58,"y":-7.5},{"p":5,"s":"g","x":326.72,"y":-16.2},{"p":5,"s":"g","x":326.93,"y":-27.8},{"p":5,"s":"g","x":327.21,"y":-42.3},{"p":5,"s":"g","x":327.32,"y":-7.5},{"p":5,"s":"g","x":327.46,"y":-16.2},{"p":5,"s":"g","x":327.63,"y":-17.4},{"p":5,"s":"g","x":327.84,"y":-36.5},{"p":5,"s":"g","x":327.98,"y":-48.1},{"p":5,"s":"g","x":328.09,"y":-10.4},{"p":5,"s":"g","x":328.26,"y":-19.1},{"p":5,"s":"g","x":328.40,"y":-20.9},{"p":5,"s":"g","x":328.61,"y":-36.5},{"p":5,"s":"g","x":328.82,"y":-51.0},{"p":5,"s":"g","x":328.93,"y":-13.3},{"p":5,"s":"g","x":329.07,"y":-16.2},{"p":5,"s":"g","x":329.17,"y":-22.0},{"p":5,"s":"g","x":329.31,"y":-26.7},{"p":5,"s":"g","x":329.49,"y":-36.5},{"p":5,"s":"g","x":329.66,"y":-46.4},{"p":5,"s":"g","x":329.73,"y":-7.5},{"p":5,"s":"g","x":329.87,"y":-13.3},{"p":5,"s":"g","x":330.01,"y":-16.2},{"p":5,"s":"g","x":330.25,"y":-33.6},{"p":5,"s":"g","x":330.43,"y":-45.2},{"p":5,"s":"g","x":330.50,"y":-13.3},{"p":5,"s":"g","x":330.60,"y":-19.1},{"p":5,"s":"g","x":330.74,"y":-22.0},{"p":5,"s":"g","x":330.88,"y":-27.8},{"p":5,"s":"g","x":331.06,"y":-39.4},{"p":5,"s":"g","x":331.20,"y":-51.0},{"p":5,"s":"g","x":331.30,"y":-13.3},{"p":5,"s":"g","x":331.44,"y":-19.1},{"p":5,"s":"g","x":331.58,"y":-22.0},{"p":5,"s":"g","x":331.72,"y":-30.7},{"p":5,"s":"g","x":331.86,"y":-39.4},{"p":5,"s":"g","x":332.00,"y":-48.1},{"p":5,"s":"g","x":332.11,"y":-15.1},{"p":5,"s":"g","x":332.25,"y":-19.1},{"p":5,"s":"g","x":332.39,"y":-27.8},{"p":5,"s":"g","x":332.56,"y":-45.2},{"p":5,"s":"g","x":332.70,"y":-16.2},{"p":5,"s":"g","x":332.77,"y":41.8},{"p":5,"s":"g","x":332.88,"y":101.4},{"p":5,"s":"g","x":338.13,"y":101.4},{"p":5,"s":"g","x":338.27,"y":44.7},{"p":5,"s":"g","x":338.41,"y":24.4},{"p":5,"s":"g","x":338.48,"y":73.7},{"p":5,"s":"g","x":338.55,"y":41.8},{"p":5,"s":"g","x":338.65,"y":33.1},{"p":5,"s":"g","x":338.79,"y":-13.3},{"p":5,"s":"g","x":338.93,"y":-33.6},{"p":5,"s":"g","x":339.11,"y":-42.3},{"p":5,"s":"g","x":339.25,"y":-56.8},{"p":5,"s":"g","x":339.32,"y":-68.4},{"p":5,"s":"g","x":339.39,"y":1.2},{"p":5,"s":"g","x":339.49,"y":24.4},{"p":5,"s":"g","x":339.56,"y":12.8},{"p":5,"s":"g","x":339.67,"y":15.7},{"p":5,"s":"g","x":339.84,"y":-1.7},{"p":5,"s":"g","x":340.02,"y":-13.3},{"p":5,"s":"g","x":340.11,"y":-22.0},
{"p":5,"s":"b","x":320.11,"y":0},{"p":5,"s":"b","x":320.6,"y":1.7},{"p":5,"s":"b","x":321.1,"y":-1.2},{"p":5,"s":"b","x":321.6,"y":1.7},{"p":5,"s":"b","x":322.1,"y":-1.2},{"p":5,"s":"b","x":322.6,"y":1.7},{"p":5,"s":"b","x":323.1,"y":-1.2},{"p":5,"s":"b","x":323.5,"y":1.2},{"p":5,"s":"b","x":324.0,"y":1.2},{"p":5,"s":"b","x":324.5,"y":0},{"p":5,"s":"b","x":325.0,"y":1.7},{"p":5,"s":"b","x":325.5,"y":0},{"p":5,"s":"b","x":326.0,"y":-1.2},{"p":5,"s":"b","x":326.5,"y":0},{"p":5,"s":"b","x":327.0,"y":1.2},{"p":5,"s":"b","x":327.5,"y":0},{"p":5,"s":"b","x":328.0,"y":1.2},{"p":5,"s":"b","x":328.5,"y":-1.2},{"p":5,"s":"b","x":329.0,"y":0},{"p":5,"s":"b","x":329.5,"y":-1.2},{"p":5,"s":"b","x":330.0,"y":0},{"p":5,"s":"b","x":330.46,"y":1.2},{"p":5,"s":"b","x":331.16,"y":3.5},{"p":5,"s":"b","x":331.86,"y":1.2},{"p":5,"s":"b","x":332.70,"y":1.2},{"p":5,"s":"b","x":332.98,"y":-5.8},{"p":5,"s":"b","x":333.33,"y":-10.4},{"p":5,"s":"b","x":333.58,"y":-15.1},{"p":5,"s":"b","x":333.82,"y":-10.4},{"p":5,"s":"b","x":334.03,"y":7.0},{"p":5,"s":"b","x":334.31,"y":38.9},{"p":5,"s":"b","x":334.66,"y":50.0},{"p":5,"s":"b","x":335.05,"y":38.9},{"p":5,"s":"b","x":335.29,"y":27.2},{"p":5,"s":"b","x":335.57,"y":18.6},{"p":5,"s":"b","x":335.85,"y":1.2},{"p":5,"s":"b","x":336.76,"y":1.2},{"p":5,"s":"b","x":337.46,"y":1.2},{"p":5,"s":"b","x":338.16,"y":1.2},{"p":5,"s":"b","x":338.44,"y":4.1},{"p":5,"s":"b","x":338.86,"y":8.1},{"p":5,"s":"b","x":339.28,"y":12.8},{"p":5,"s":"b","x":339.56,"y":4.1},{"p":5,"s":"b","x":339.84,"y":-13.3},{"p":5,"s":"b","x":340.11,"y":-36.3},
{"p":5,"s":"k","k":1,"x":334.42,"y":46.4},{"p":5,"s":"k","k":1,"x":334.93,"y":46.4},
{"p":5,"s":"d","x":330.10,"y":105},{"p":5,"s":"d","x":330.10,"y":-127}
]},
"data":{"name":"sig"},
"vconcat":[
{"vconcat":[
{"width":953,"height":191,
 "title":"Examinee= 3, Chart=6,CV1, CRWT8−2−2 green:signal, blue:coeffs \u00a0−87.1328::23.7563",
 "transform":[{"filter":"datum.p==1"}],
 "encoding":{"x":{"field":"x","type":"quantitative","scale":{"domain":[115.07,135.07],"nice":false,"zero":false},"axis":{"title":null,"values":[116,118,120,122,124,126,128,130,132,134]}},
  "y":{"field":"y","type":"quantitative","scale":{"domain":[-177.5,154],"nice":false,"zero":false},"axis":{"title":null,"values":[-100,0,100]}}},
 "layer":[
  {"transform":[{"filter":"datum.s=='g'"}],"mark":{"type":"line","color":"#00ff00","strokeWidth":3.8,"clip":true},"encoding":{"detail":{"field":"k","type":"nominal"}}},
  {"transform":[{"filter":"datum.s=='b'"}],"mark":{"type":"line","color":"#0000ff","strokeWidth":3.8,"clip":true},"encoding":{}},
  {"transform":[{"filter":"datum.s=='d'"}],"mark":{"type":"point","shape":"M0,-1L0.78,0L0,1L-0.78,0Z","size":280,"filled":false,"color":"#ff0000","strokeWidth":1,"opacity":1},"encoding":{}}
 ]},
{"width":953,"height":191,
 "title":"Examinee= 8, Chart=2,CV1, CRWT8−2−2 green:signal, blue:coeffs \u00a0−16.0833::30.5496",
 "transform":[{"filter":"datum.p==2"}],
 "encoding":{"x":{"field":"x","type":"quantitative","scale":{"domain":[261.19,281.19],"nice":false,"zero":false},"axis":{"title":null,"values":[262,264,266,268,270,272,274,276,278,280]}},
  "y":{"field":"y","type":"quantitative","scale":{"domain":[-177.5,154],"nice":false,"zero":false},"axis":{"title":null,"values":[-100,0,100]}}},
 "layer":[
  {"transform":[{"filter":"datum.s=='g'"}],"mark":{"type":"line","color":"#00ff00","strokeWidth":3.8,"clip":true},"encoding":{"detail":{"field":"k","type":"nominal"}}},
  {"transform":[{"filter":"datum.s=='b'"}],"mark":{"type":"line","color":"#0000ff","strokeWidth":3.8,"clip":true},"encoding":{}},
  {"transform":[{"filter":"datum.s=='d'"}],"mark":{"type":"point","shape":"M0,-1L0.78,0L0,1L-0.78,0Z","size":280,"filled":false,"color":"#ff0000","strokeWidth":1,"opacity":1},"encoding":{}}
 ]},
{"width":953,"height":191,
 "title":"Examinee= 8, Chart=2,CV1, CRWT8−2−2 green:signal, blue:coeffs \u00a0−20.8882::46.7298",
 "transform":[{"filter":"datum.p==3"}],
 "encoding":{"x":{"field":"x","type":"quantitative","scale":{"domain":[285.49,305.49],"nice":false,"zero":false},"axis":{"title":null,"values":[286,288,290,292,294,296,298,300,302,304]}},
  "y":{"field":"y","type":"quantitative","scale":{"domain":[-177.5,154],"nice":false,"zero":false},"axis":{"title":null,"values":[-100,0,100]}}},
 "layer":[
  {"transform":[{"filter":"datum.s=='g'"}],"mark":{"type":"line","color":"#00ff00","strokeWidth":3.8,"clip":true},"encoding":{"detail":{"field":"k","type":"nominal"}}},
  {"transform":[{"filter":"datum.s=='b'"}],"mark":{"type":"line","color":"#0000ff","strokeWidth":3.8,"clip":true},"encoding":{}},
  {"transform":[{"filter":"datum.s=='r'"}],"mark":{"type":"line","color":"#ff0000","strokeWidth":3.8,"clip":true},"encoding":{}},
  {"transform":[{"filter":"datum.s=='k'"}],"mark":{"type":"line","color":"#000000","strokeWidth":14,"strokeCap":"round"},"encoding":{"detail":{"field":"k","type":"nominal"}}},
  {"transform":[{"filter":"datum.s=='d'"}],"mark":{"type":"point","shape":"M0,-1L0.78,0L0,1L-0.78,0Z","size":280,"filled":false,"color":"#0000ff","strokeWidth":1,"opacity":1},"encoding":{}}
 ]}
],"spacing":85,"bounds":"flush"},
{"vconcat":[
{"width":953,"height":191,
 "title":"Examinee= 8, Chart=3,CV1, CRWT8−2−2 green:signal, blue:coeffs \u00a0−76.1951::65.9341",
 "transform":[{"filter":"datum.p==4"}],
 "encoding":{"x":{"field":"x","type":"quantitative","scale":{"domain":[268.82,288.82],"nice":false,"zero":false},"axis":{"title":null,"values":[270,272,274,276,278,280,282,284,286,288]}},
  "y":{"field":"y","type":"quantitative","scale":{"domain":[-177.5,154],"nice":false,"zero":false},"axis":{"title":null,"values":[-100,0,100]}}},
 "layer":[
  {"transform":[{"filter":"datum.s=='g'"}],"mark":{"type":"line","color":"#00ff00","strokeWidth":3.8,"clip":true},"encoding":{"detail":{"field":"k","type":"nominal"}}},
  {"transform":[{"filter":"datum.s=='b'"}],"mark":{"type":"line","color":"#0000ff","strokeWidth":3.8,"clip":true},"encoding":{}},
  {"transform":[{"filter":"datum.s=='k'"}],"mark":{"type":"line","color":"#000000","strokeWidth":14,"strokeCap":"round"},"encoding":{"detail":{"field":"k","type":"nominal"}}},
  {"transform":[{"filter":"datum.s=='d'"}],"mark":{"type":"point","shape":"M0,-1L0.78,0L0,1L-0.78,0Z","size":280,"filled":false,"color":"#ff0000","strokeWidth":1,"opacity":1},"encoding":{}}
 ]},
{"width":953,"height":191,
 "title":"Examinee= 8, Chart=3,CV1, CRWT8−2−2 green:signal, blue:coeffs \u00a0−36.2593::50.0257",
 "transform":[{"filter":"datum.p==5"}],
 "encoding":{"x":{"field":"x","type":"quantitative","scale":{"domain":[320.11,340.11],"nice":false,"zero":false},"axis":{"title":null,"values":[322,324,326,328,330,332,334,336,338,340]}},
  "y":{"field":"y","type":"quantitative","scale":{"domain":[-177.5,154],"nice":false,"zero":false},"axis":{"title":null,"values":[-100,0,100]}}},
 "layer":[
  {"transform":[{"filter":"datum.s=='g'"}],"mark":{"type":"line","color":"#00ff00","strokeWidth":3.8,"clip":true},"encoding":{"detail":{"field":"k","type":"nominal"}}},
  {"transform":[{"filter":"datum.s=='b'"}],"mark":{"type":"line","color":"#0000ff","strokeWidth":3.8,"clip":true},"encoding":{}},
  {"transform":[{"filter":"datum.s=='k'"}],"mark":{"type":"line","color":"#000000","strokeWidth":14,"strokeCap":"round"},"encoding":{"detail":{"field":"k","type":"nominal"}}},
  {"transform":[{"filter":"datum.s=='d'"}],"mark":{"type":"point","shape":"M0,-1L0.78,0L0,1L-0.78,0Z","size":280,"filled":false,"color":"#ff0000","strokeWidth":1,"opacity":1},"encoding":{}}
 ]}
],"spacing":85,"bounds":"flush"}
],
"config":{
 "font":"Liberation Serif",
 "view":{"stroke":null},
 "axis":{"labelFont":"Liberation Serif","labelFontSize":20,"labelColor":"#000000","domainColor":"#000000","tickColor":"#000000","tickSize":-9,"grid":false,"labelFlush":false,"labelOverlap":false},
 "axisX":{"labelPadding":18.5},
 "axisY":{"labelPadding":16},
 "title":{"font":"Liberation Serif","fontSize":21.5,"fontWeight":"normal","color":"#000000","anchor":"middle","offset":12,"baseline":"alphabetic"},
 "line":{"strokeJoin":"round","strokeCap":"round"}
}
}
